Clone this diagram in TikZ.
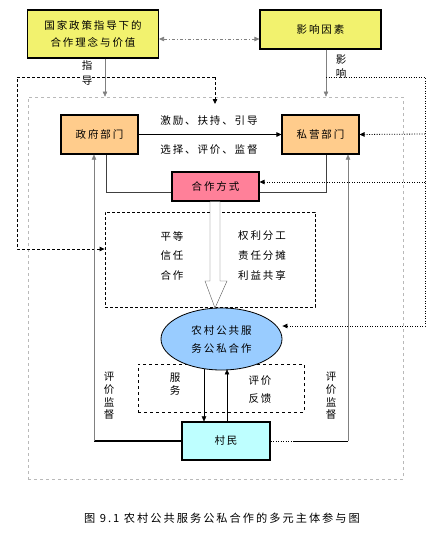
\documentclass[tikz,border=0pt]{standalone}
\usepackage{fontspec}
\setmainfont{Noto Sans CJK SC}[LetterSpace=18]
\usetikzlibrary{arrows.meta,shapes.geometric}

\definecolor{yel}{RGB}{242,242,110}
\definecolor{org}{RGB}{255,204,140}
\definecolor{pnk}{RGB}{255,128,153}
\definecolor{blu}{RGB}{153,204,255}
\definecolor{cyn}{RGB}{190,255,255}

\begin{document}
\begin{tikzpicture}[x=1pt,y=-1pt,
  box/.style={draw,line width=1.1pt,inner sep=0pt,align=center,font=\fontsize{10.5}{17}\selectfont},
  lbl/.style={inner sep=0pt,align=center,font=\fontsize{10.5}{13}\selectfont},
  vlbl/.style={inner sep=0pt,align=center,font=\fontsize{10.5}{12.6}\selectfont},
  tip/.style={-{Triangle[length=5pt,width=4.5pt]}},
  guide/.style={dash pattern=on 3pt off 2pt,line width=0.8pt},
  link/.style={dash pattern=on 3pt off 2pt on 1pt off 2pt,line width=0.7pt},
  dots/.style={dash pattern=on 1pt off 1.5pt,line width=0.8pt}]
\useasboundingbox (0,0) rectangle (441,541);

% frames
\node[draw=gray!55,dashed,line width=0.8pt,minimum width=375pt,minimum height=382pt] (frame) at (215.5,288) {};
\node[draw,guide,minimum width=210pt,minimum height=95pt] (values) at (210,259.5) {};
\node[draw,dashed,line width=0.8pt,minimum width=166pt,minimum height=48pt] (svc) at (221,388) {};

% boxes
\node[box,fill=yel,minimum width=131pt,minimum height=48pt] (policy) at (93,34) {国家政策指导下的\\合作理念与价值};
\node[box,fill=yel,minimum width=121pt,minimum height=39pt] (factor) at (320.5,29.5) {影响因素};
\node[box,fill=org,minimum width=77pt,minimum height=39pt] (gov) at (99.5,134.5) {政府部门};
\node[box,fill=org,minimum width=77pt,minimum height=39pt] (priv) at (320.5,134.5) {私营部门};
\node[box,fill=pnk,minimum width=87pt,minimum height=29pt] (mode) at (215.5,186.5) {合作方式};
\node[ellipse,draw,line width=0.8pt,fill=blu,minimum width=121pt,minimum height=62pt,inner sep=0pt,align=center,font=\fontsize{10.5}{18}\selectfont] (coop) at (221.5,339) {农村公共服\\务公私合作};
\node[box,fill=cyn,minimum width=88pt,minimum height=38pt] (vill) at (226,441) {村民};

% top connectors
\draw[gray,link,{Triangle[length=5pt,width=4.5pt]}-{Triangle[length=5pt,width=4.5pt]}] ([yshift=-5pt]policy.east) -- ([yshift=-9.5pt]factor.west);
\coordinate (g1) at (215,77);
\coordinate (g2) at (215,104);
\draw[guide,tip] (g1) -- (g2);
\draw[guide,tip] (g1) -- (17,77) -- (17,249) -- ([yshift=10.5pt]values.west);
\draw[gray,tip] ([xshift=12pt]policy.south) -- ([xshift=12pt]policy.south |- frame.north);
\draw[gray,tip] ([xshift=5.5pt]factor.south) -- ([xshift=5.5pt]factor.south |- frame.north);
\node[vlbl,fill=white,font=\fontsize{10.5}{15}\selectfont] (guidelbl) at (87,72.5) {指\\导};
\node[vlbl,font=\fontsize{10.5}{14}\selectfont] (efflbl) at (341,67) {影\\响};

% influence factors
\coordinate (r0) at (326,77);
\coordinate (r1) at (425,134);
\coordinate (r2) at (425,182);
\draw[dots,tip] (r0) -- (425,77) -- (425,326) -- ([yshift=13pt]coop.east);
\draw[dots,tip] (r1) -- (priv.east);
\draw[dots,tip] (r2) -- ([yshift=4.5pt]mode.east);

% government and private sector
\draw[line width=0.9pt,tip] (gov) -- (priv);
\node[lbl] (inc) at (209,121) {激励、扶持、引导};
\node[lbl] (sel) at (209,150) {选择、评价、监督};
\draw[black!75] ([xshift=6.5pt]gov.south) |- ([yshift=-5.5pt]mode.west);
\draw[black!75] ([xshift=5.5pt]priv.south) |- ([yshift=-5.5pt]mode.east);

% hollow arrow
\draw[black!65,fill=white] ([xshift=-5.5pt]mode.south) -- (210,281) -- (205,281) -- (215,308) -- (227,281) -- (220,281) -- ([xshift=4.5pt]mode.south);

% principles
\node[lbl] (eq) at (172,236) {平等};
\node[lbl] (tr) at (172,255.5) {信任};
\node[lbl] (co) at (172,275) {合作};
\node[lbl] (rt) at (262,236) {权利分工};
\node[lbl] (rs) at (262,255.5) {责任分摊};
\node[lbl] (bf) at (262,275) {利益共享};

% evaluation and supervision
\coordinate (bl) at (94,441);
\coordinate (bm) at (293,441);
\coordinate (br) at (348,441);
\draw[line width=1.3pt] (vill.west) -- (bl);
\draw[gray,tip] (bl) -- ([xshift=-5.5pt]gov.south);
\draw[dots,line width=1pt] (vill.east) -- (bm);
\draw (bm) -- (br);
\draw[gray,tip] (br) -- ([xshift=27.5pt]priv.south);
\node[vlbl] (evl) at (109,396) {评\\价\\监\\督};
\node[vlbl] (evr) at (331,396) {评\\价\\监\\督};

% service and feedback
\draw[tip] ([xshift=-17.5pt,yshift=1.5pt]coop.south) -- ([xshift=-22pt]vill.north);
\draw[tip] ([xshift=1pt]vill.north) -- ([xshift=5.5pt,yshift=1pt]coop.south);
\node[vlbl] (srv) at (175,384) {服\\务};
\node[lbl,font=\fontsize{10.5}{18}\selectfont] (fb) at (260,390) {评价\\反馈};

% caption
\node[lbl,font=\fontsize{11.2}{13}\selectfont] (cap) at (222,518) {图 9.1 农村公共服务公私合作的多元主体参与图};
\end{tikzpicture}
\end{document}
